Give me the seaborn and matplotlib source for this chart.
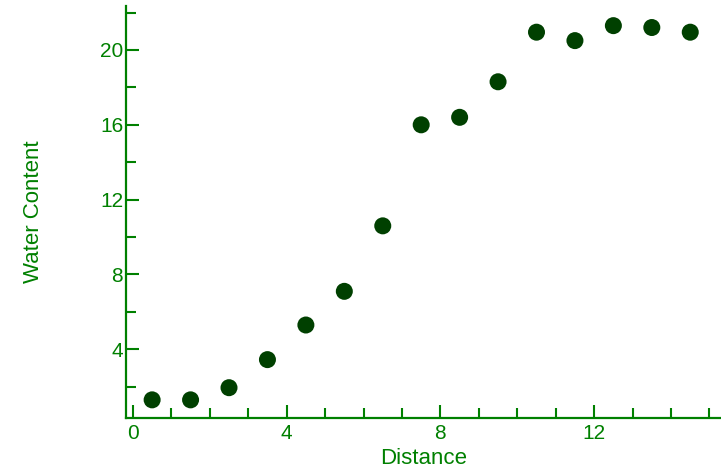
import numpy as np
import pandas as pd
import matplotlib
matplotlib.use('Agg')
import matplotlib.pyplot as plt
from matplotlib.ticker import MultipleLocator
import seaborn as sns

# valores
distance = [0.5, 1.5, 2.5, 3.5, 4.5, 5.5, 6.5, 7.5, 8.5, 9.5, 10.5, 11.5, 12.5, 13.5, 14.5]
water = [1.3, 1.3, 1.95, 3.45, 5.3, 7.1, 10.6, 16.0, 16.4, 18.3, 20.95, 20.5, 21.3, 21.2, 20.95]

df = pd.DataFrame({'Distance': distance, 'Water Content': water})

sns.set_style('white')
plt.rcParams['font.family'] = ['Liberation Sans', 'DejaVu Sans']
verde = '#008000'

fig = plt.figure(figsize=(7.21, 4.70), dpi=100)
ax = fig.add_axes([126/721, 1 - 418/470, 1 - 126/721, 412/470])

sns.scatterplot(data=df, x='Distance', y='Water Content', ax=ax,
                color='#004000', s=150, edgecolor='none', linewidth=0)

ax.set_xlim(-0.18, 15.3)
ax.set_ylim(0.33, 22.35)
ax.xaxis.set_major_locator(MultipleLocator(4))
ax.xaxis.set_minor_locator(MultipleLocator(1))
ax.yaxis.set_major_locator(MultipleLocator(4))
ax.yaxis.set_minor_locator(MultipleLocator(2))
ax.set_yticks([4, 8, 12, 16, 20])

for lado in ['top', 'right']:
    ax.spines[lado].set_visible(False)
for lado in ['left', 'bottom']:
    ax.spines[lado].set_color(verde)
    ax.spines[lado].set_linewidth(1.6)

ax.tick_params(which='major', direction='in', length=9.5, width=1.5,
               color=verde, labelcolor=verde, labelsize=15)
ax.tick_params(which='minor', direction='in', length=7, width=1.5, color=verde)
ax.tick_params(axis='x', which='both', bottom=True, pad=4)
ax.tick_params(axis='y', which='both', left=True, pad=2)

ax.set_xlabel('Distance', color=verde, fontsize=16, va='top')
ax.set_ylabel('Water Content', color=verde, fontsize=16)
ax.xaxis.set_label_coords(0.5, -0.072)
ax.yaxis.set_label_coords(-0.138, 0.5)

fig.savefig('out.png', dpi=100)
